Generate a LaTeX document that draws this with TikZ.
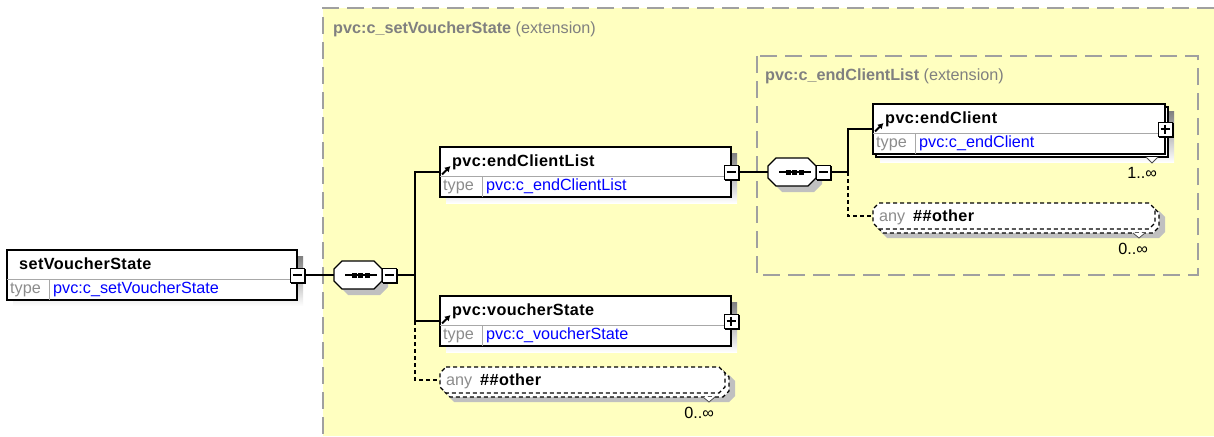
\documentclass[tikz,border=0pt]{standalone}
\usepackage{fontspec}
\setmainfont{Liberation Sans}
\usetikzlibrary{calc,arrows.meta}

\definecolor{extfill}{HTML}{FFFFC0}
\definecolor{extline}{HTML}{A0A0A0}
\definecolor{shade}{HTML}{C0C0C0}
\definecolor{keygray}{HTML}{8C8C8C}
\definecolor{typeblue}{HTML}{0000FF}
\definecolor{extlabel}{HTML}{808080}
\definecolor{divgray}{HTML}{A8A8A8}

\newcommand{\dgfont}{\fontsize{16.2pt}{19pt}\selectfont}

% octagon path: style, x0, y0, x1, y1, corner cut
\newcommand{\octo}[6]{%
  \draw[#1] (#2+#6,#3) -- (#4-#6,#3) -- (#4,#3+#6) -- (#4,#5-#6) -- (#4-#6,#5)
    -- (#2+#6,#5) -- (#2,#5-#6) -- (#2,#3+#6) -- cycle;}

% element box: id, left, top, width, name, type
\newcommand{\xsdelem}[6]{%
  \node[elembox, minimum width=#4pt, anchor=north west] (#1) at (#2,#3) {};
  \draw[divline] (#2,#3+29) -- (#2+#4,#3+29) (#2+42,#3+29) -- (#2+42,#3+50);
  \node[namelbl] (#1-name) at (#2+12,#3+19.5) {#5};
  \node[typekey] (#1-key) at (#2+3,#3+43) {type};
  \node[typeval] (#1-type) at (#2+46,#3+43) {#6};}

% reference marker in front of the element name: left, top
\newcommand{\refmark}[2]{\draw[refarrow] (#1+2,#2+27.5) -- (#1+10.5,#2+19);}

% expand/collapse button: id, position, anchor, 1 = plus / 0 = minus
\newcommand{\xbtn}[4]{%
  \node[btn, anchor=#3] (#1) at (#2) {};
  \draw[line width=1.3pt] ($(#1.north east)+(1,1)$) -- ($(#1.south east)+(1,1)$)
    -- ($(#1.south west)+(1,1)$);
  \draw[line width=1.2pt] ($(#1.center)+(-4.5,0)$) -- ($(#1.center)+(4.5,0)$);
  \ifnum#4=1 \draw[line width=1.2pt] ($(#1.center)+(0,-4.5)$) -- ($(#1.center)+(0,4.5)$);\fi}

% sequence compositor: id, left, top (48 x 28)
\newcommand{\seqgrp}[3]{%
  \octo{fill=shade, draw=none}{#2+6}{#3+6}{#2+54}{#3+34}{8}
  \octo{seqshape}{#2}{#3}{#2+48}{#3+28}{8}
  \node[hook, minimum width=48pt, minimum height=28pt, anchor=north west] (#1) at (#2,#3) {};
  \draw[line width=1.2pt] (#2+11,#3+14) -- (#2+43,#3+14);
  \fill (#2+17.5,#3+11.5) rectangle +(5,5);
  \fill (#2+24,#3+11.5) rectangle +(5,5);
  \fill (#2+30.5,#3+11.5) rectangle +(5,5);
  \xbtn{#1-btn}{#1.east}{west}{0}}

% any-element wildcard: id, x0, y0, x1, y1
\newcommand{\anyelem}[5]{%
  \octo{fill=shade, draw=none}{#2+8}{#3+8}{#4+10}{#5+9}{6}
  \octo{anyshape}{#2+4}{#3+4}{#4+4}{#5+4}{6}
  \octo{anyshape}{#2}{#3}{#4}{#5}{6}
  \node[hook, minimum width=#4pt-#2pt, minimum height=#5pt-#3pt, anchor=north west] (#1) at (#2,#3) {};
  \node[typekey] (#1-key) at (#2+6,#3+18.5) {any};
  \node[namelbl] (#1-name) at (#2+40,#3+18.5) {\#\#other};
  \filldraw[fill=white, draw=black!70, line width=0.8pt]
    (#4-22,#5+4) -- (#4-16,#5+9) -- (#4-10,#5+4);}

\begin{document}
\begin{tikzpicture}[x=1pt, y=-1pt, font=\dgfont,
  elembox/.style={rectangle, draw=black, line width=1.3pt, fill=white,
    inner sep=0pt, outer sep=0pt, minimum height=50pt},
  hook/.style={rectangle, inner sep=0pt, outer sep=0pt},
  divline/.style={draw=divgray, line width=1pt},
  namelbl/.style={anchor=base west, inner sep=0pt,
    font=\dgfont\bfseries\addfontfeatures{LetterSpace=2.5}},
  typekey/.style={anchor=base west, inner sep=0pt, text=keygray},
  typeval/.style={anchor=base west, inner sep=0pt, text=typeblue},
  btn/.style={rectangle, draw=black, fill=white, line width=1pt,
    minimum size=14pt, inner sep=0pt, outer sep=0pt},
  refarrow/.style={line width=2pt, -{Latex[length=5.5pt,width=6.5pt]}},
  conn/.style={line width=1.3pt},
  connd/.style={line width=1.3pt, dash pattern=on 4pt off 3pt},
  extbox/.style={draw=extline, line width=2pt, dash pattern=on 17pt off 8pt},
  extlbl/.style={anchor=base west, inner sep=0pt, text=extlabel},
  occur/.style={anchor=base east, inner sep=0pt},
  seqshape/.style={draw=black, line width=1.3pt, fill=white},
  anyshape/.style={draw=black, line width=1.2pt, fill=white, dash pattern=on 4pt off 3pt}]

\useasboundingbox (0,0) rectangle (1214,436);
\fill[white] (0,0) rectangle (1214,436);

% extension regions
\fill[extfill] (323,8) rectangle (1214,436);
\draw[extbox] (1214,8) -- (323,8) -- (323,436);
\node[extlbl] (ext-outer) at (333,34) {\textbf{pvc:c\_setVoucherState} (extension)};
\draw[extbox] (757,56) rectangle (1198,275);
\node[extlbl] (ext-inner) at (765,81) {\textbf{pvc:c\_endClientList} (extension)};

% root element
\fill[shade] (13,256) rectangle (303,306);
\xsdelem{svs}{7}{250}{290}{setVoucherState}{pvc:c\_setVoucherState}
\xbtn{svs-btn}{svs.east}{center}{0}

% outer sequence
\seqgrp{s1}{334}{261}

% endClientList
\fill[shade] (446,153) rectangle (737,203);
\xsdelem{ecl}{440}{147}{291}{pvc:endClientList}{pvc:c\_endClientList}
\refmark{440}{147}
\xbtn{ecl-btn}{ecl.east}{center}{0}

% voucherState
\fill[shade] (446,302) rectangle (737,352);
\xsdelem{vs}{440}{296}{291}{pvc:voucherState}{pvc:c\_voucherState}
\refmark{440}{296}
\xbtn{vs-btn}{vs.east}{center}{1}

% wildcard of the outer sequence
\anyelem{any1}{440}{367}{725}{393}
\node[occur] (any1-occ) at (714,418) {0..∞};

% inner sequence
\seqgrp{s2}{768}{158}

% endClient (repeating)
\fill[shade] (880,111) rectangle (1174,162);
\draw[elembox] (876,107) rectangle (1168,157);
\xsdelem{ec}{873}{104}{292}{pvc:endClient}{pvc:c\_endClient}
\refmark{873}{104}
\filldraw[fill=white, draw=black!70, line width=0.8pt] (1146,157) -- (1152,163) -- (1158,157);
\xbtn{ec-btn}{ec.east}{center}{1}
\node[occur] (ec-occ) at (1157,178) {1..∞};

% wildcard of the inner sequence
\anyelem{any2}{873}{203}{1155}{229}
\node[occur] (any2-occ) at (1148,254) {0..∞};

% connectors
\coordinate (j1) at (415,275);
\coordinate (j2) at (848,172);
\draw[conn] (svs-btn.east) -- (s1.west);
\draw[conn] (s1-btn.east) -- (j1) |- (ecl.west);
\draw[conn] (j1) |- (vs.west);
\draw[connd] (vs.west -| j1) |- (any1.west);
\draw[conn] (ecl-btn.east) -- (s2.west);
\draw[conn] (s2-btn.east) -- (j2) |- (ec.west);
\draw[connd] (j2) |- (any2.west);
\end{tikzpicture}
\end{document}
